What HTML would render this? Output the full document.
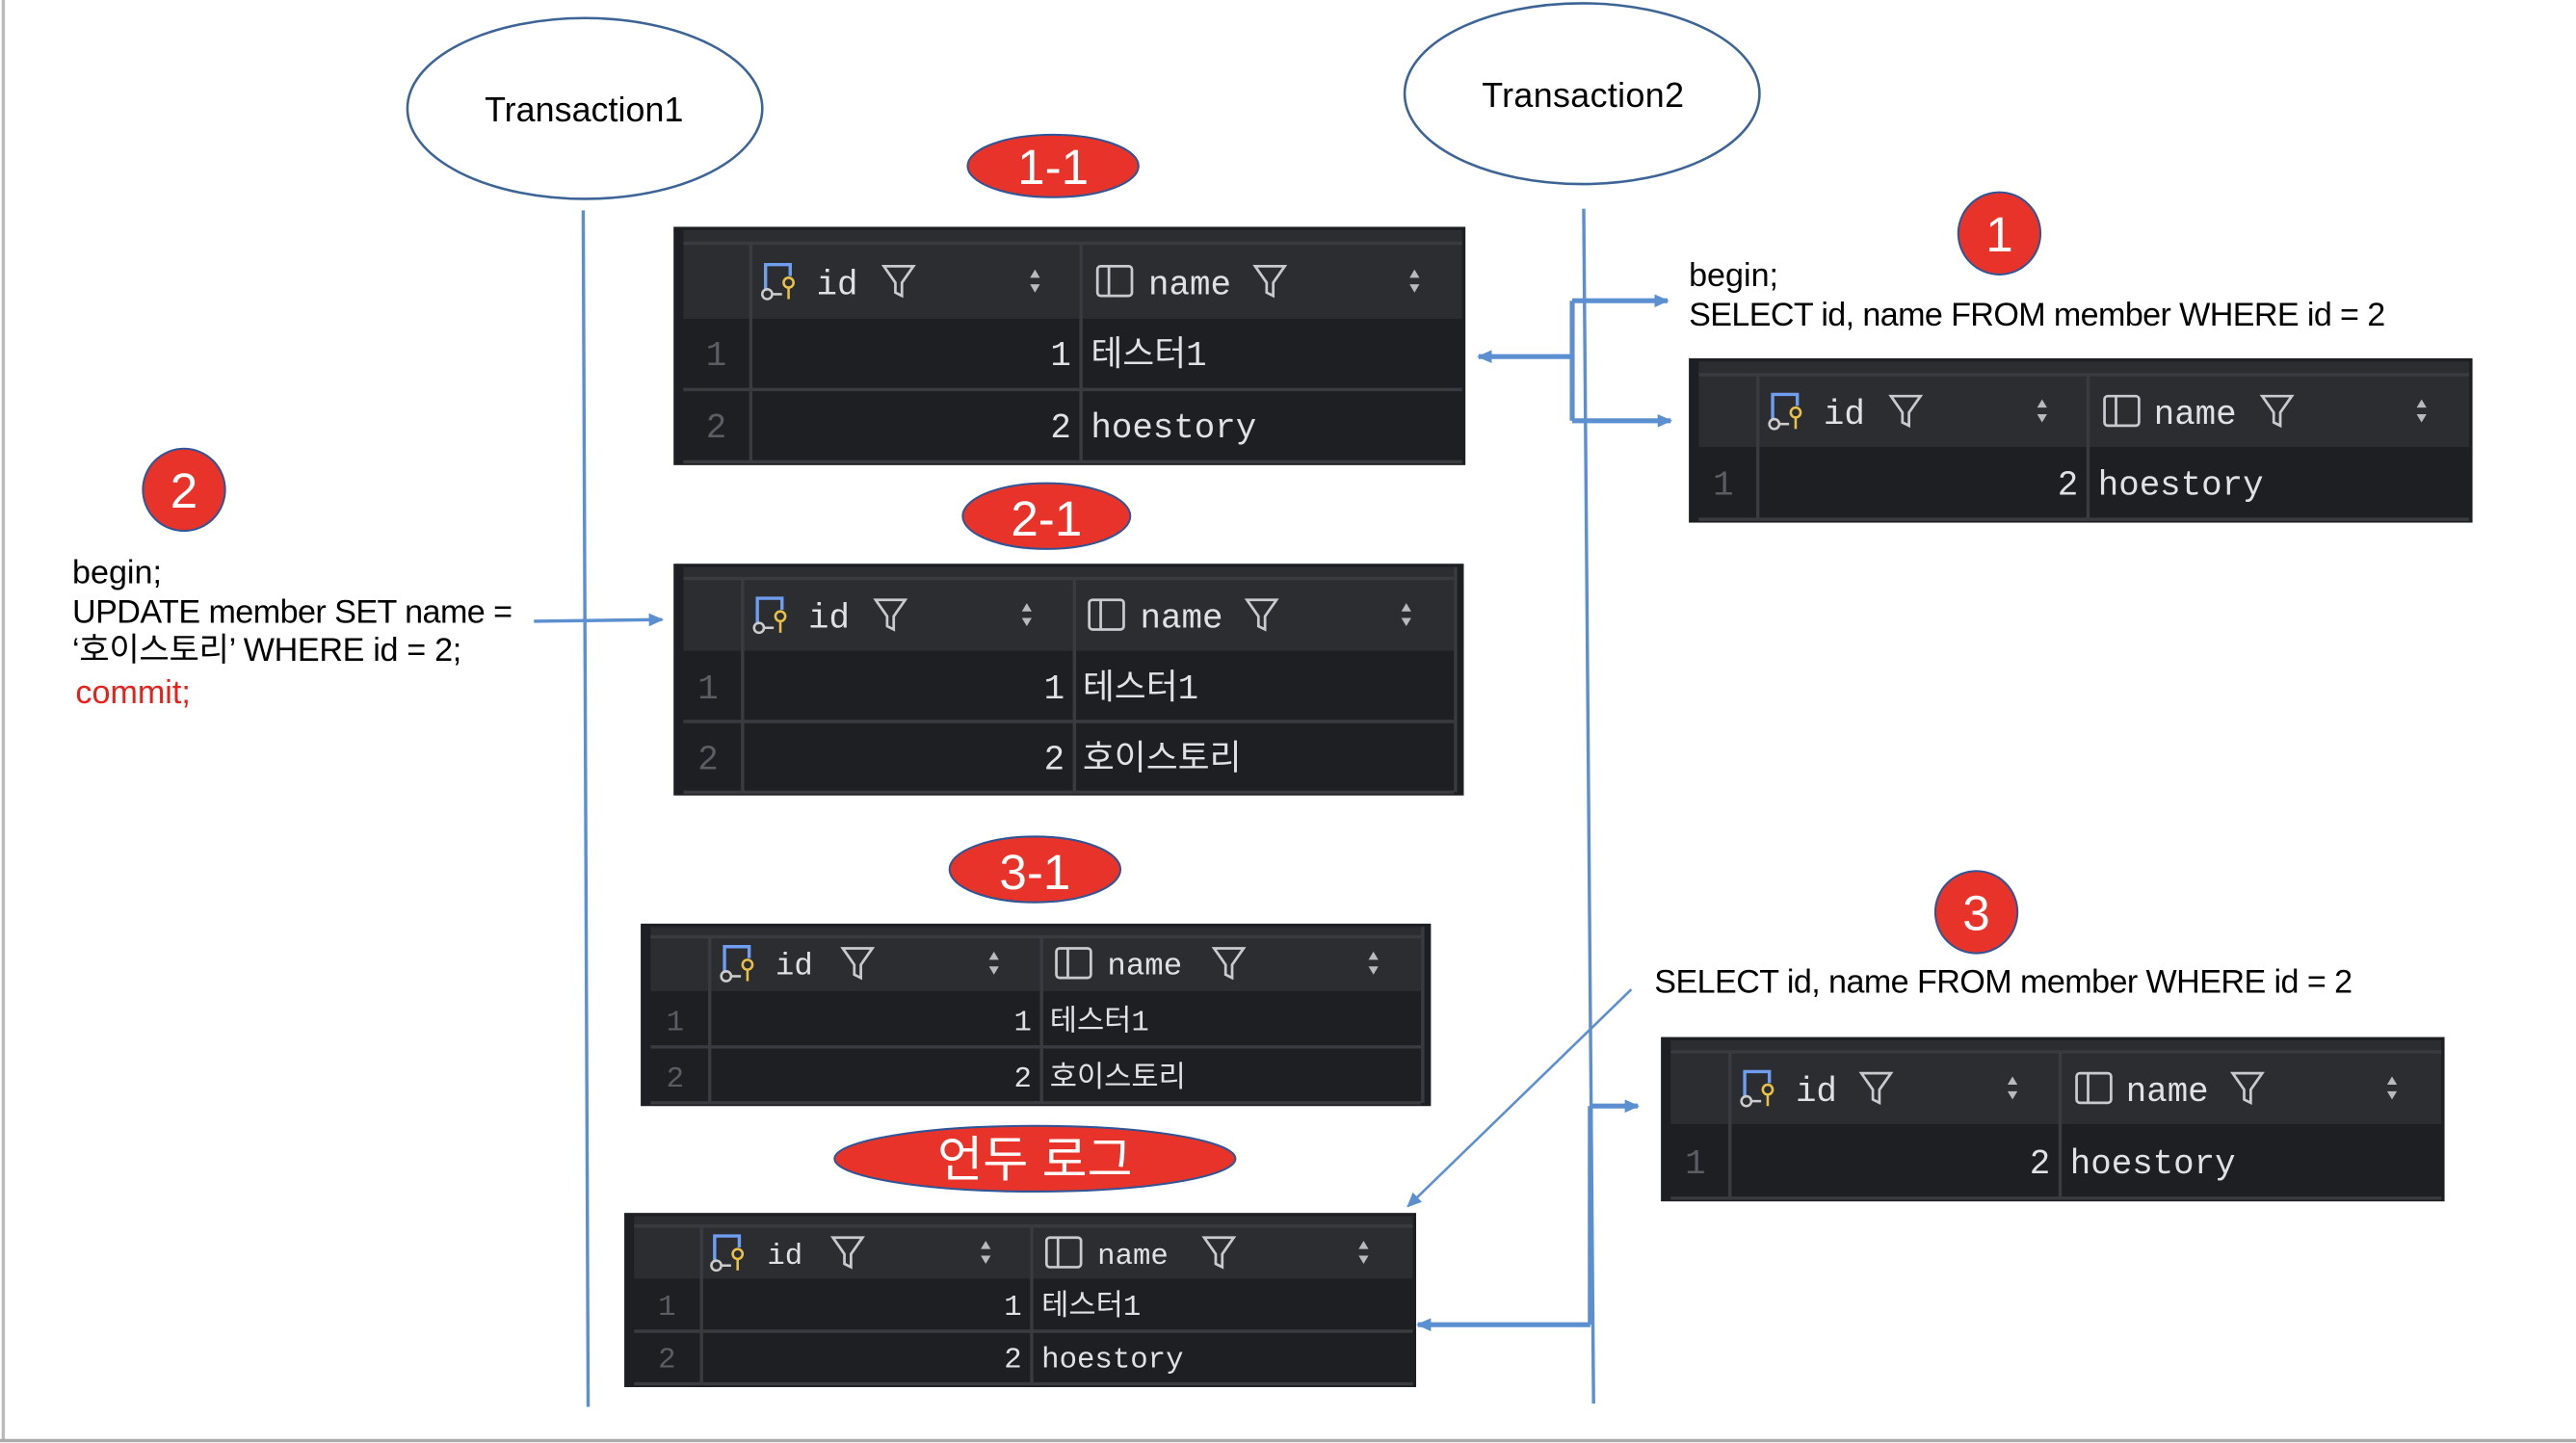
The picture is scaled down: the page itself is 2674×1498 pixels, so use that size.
<!DOCTYPE html>
<html><head><meta charset="utf-8"><style>
html,body{margin:0;padding:0;background:#fff;}
svg{display:block;}
.t{font-family:"Liberation Sans","Noto Sans CJK KR",sans-serif;fill:#000;}
.m{font-family:"Liberation Mono","Noto Sans CJK KR",monospace;fill:#dfe1e5;}
.rn{font-family:"Liberation Mono",monospace;fill:#5a5d63;}
.w{font-family:"Liberation Sans","Noto Sans CJK KR",sans-serif;fill:#fff;}
</style></head><body>
<svg width="2674" height="1498" viewBox="0 0 1568 878" preserveAspectRatio="none" xmlns="http://www.w3.org/2000/svg">
<defs>
<marker id="ar" markerWidth="10" markerHeight="10" refX="8" refY="5" orient="auto" markerUnits="userSpaceOnUse"><path d="M0,1 L9,5 L0,9 Z" fill="#5b8fd0"/></marker>
<g id="key"><path d="M2,6 V-10 H17 V-3" stroke="#6f9df0" stroke-width="2" fill="none"/><circle cx="3" cy="8" r="3" stroke="#ccc" stroke-width="1.5" fill="none"/><line x1="6" y1="8" x2="12" y2="8" stroke="#ccc" stroke-width="1.5"/><circle cx="16" cy="1" r="3" stroke="#e8c04a" stroke-width="1.5" fill="none"/><line x1="16" y1="4" x2="16" y2="11" stroke="#e8c04a" stroke-width="1.5"/></g>
<g id="fun"><path d="M0,-9 H18 L11,1 V9 L7,7 V1 Z" stroke="#c8cacf" stroke-width="1.6" fill="none"/></g>
<g id="srt"><path d="M-3,-2 L0,-7 L3,-2Z M-3,2 L0,7 L3,2Z" fill="#b8babe"/></g>
<g id="pan"><rect x="0" y="-9" width="21" height="18" rx="2" stroke="#c8cacf" stroke-width="1.6" fill="none"/><line x1="7" y1="-9" x2="7" y2="9" stroke="#c8cacf" stroke-width="1.6"/></g>
</defs>
<rect x="0" y="0" width="1568" height="878" fill="#fff"/>
<line x1="2" y1="0" x2="2" y2="876" stroke="#bbb" stroke-width="2"/>
<line x1="0" y1="876.5" x2="1568" y2="876.5" stroke="#aaa" stroke-width="2"/>

<ellipse cx="356" cy="66" rx="108" ry="55" fill="#fff" stroke="#3c6496" stroke-width="1.5"/>
<text class="t" x="295" y="74" font-size="21" textLength="121">Transaction1</text>
<ellipse cx="963" cy="57" rx="108" ry="55" fill="#fff" stroke="#3c6496" stroke-width="1.5"/>
<text class="t" x="902" y="65" font-size="21" textLength="123">Transaction2</text>

<line x1="355" y1="128" x2="358" y2="856" stroke="#5b8fd0" stroke-width="2"/>
<line x1="964" y1="127" x2="970" y2="854" stroke="#5b8fd0" stroke-width="2"/>

<g stroke="#5b8fd0" stroke-width="3" fill="none">
<line x1="957" y1="183" x2="957" y2="256"/>
<line x1="957" y1="217" x2="900" y2="217" marker-end="url(#ar)"/>
<line x1="957" y1="183" x2="1015" y2="183" marker-end="url(#ar)"/>
<line x1="957" y1="256" x2="1017" y2="256" marker-end="url(#ar)"/>
<line x1="968" y1="673" x2="968" y2="806"/>
<line x1="968" y1="673" x2="997" y2="673" marker-end="url(#ar)"/>
<line x1="968" y1="806" x2="863" y2="806" marker-end="url(#ar)"/>
</g>
<line x1="325" y1="378" x2="403" y2="377" stroke="#5b8fd0" stroke-width="2" marker-end="url(#ar)"/>
<line x1="993" y1="602" x2="857" y2="734" stroke="#5b8fd0" stroke-width="1.5" marker-end="url(#ar)"/>

<g stroke="#2f5597" stroke-width="1.2" fill="#e8332a">
<ellipse cx="641" cy="101" rx="52" ry="19"/>
<ellipse cx="637" cy="314" rx="51" ry="20"/>
<ellipse cx="630" cy="529" rx="52" ry="20"/>
<ellipse cx="630" cy="705" rx="122" ry="20"/>
<circle cx="1217" cy="142" r="25"/>
<circle cx="112" cy="298" r="25"/>
<circle cx="1203" cy="555" r="25"/>
</g>
<text class="w" x="641" y="112" font-size="30" text-anchor="middle">1-1</text>
<text class="w" x="637" y="326" font-size="30" text-anchor="middle">2-1</text>
<text class="w" x="630" y="541" font-size="30" text-anchor="middle">3-1</text>
<text class="w" x="630" y="716" font-size="30" text-anchor="middle">언두 로그</text>
<text class="w" x="1217" y="153" font-size="30" text-anchor="middle">1</text>
<text class="w" x="112" y="309" font-size="30" text-anchor="middle">2</text>
<text class="w" x="1203" y="566" font-size="30" text-anchor="middle">3</text>

<text class="t" x="1028" y="174" font-size="20">begin;</text>
<text class="t" x="1028" y="198" font-size="20" textLength="424">SELECT id, name FROM member WHERE id = 2</text>
<text class="t" x="1007" y="604" font-size="20" textLength="425">SELECT id, name FROM member WHERE id = 2</text>
<text class="t" x="44" y="355" font-size="20">begin;</text>
<text class="t" x="44" y="379" font-size="20" textLength="268">UPDATE member SET name =</text>
<text class="t" x="44" y="402" font-size="20" textLength="237">‘호이스토리’ WHERE id = 2;</text>
<text class="t" x="46" y="428" font-size="20" style="fill:#e8201a">commit;</text>

<!-- Table A -->
<rect x="410" y="138" width="482" height="145" fill="#1e1f22"/>
<rect x="416" y="140" width="474" height="8" fill="#2b2d30"/>
<rect x="416" y="148" width="474" height="46" fill="#2b2d30"/>
<g stroke="#393b40" stroke-width="2"><line x1="416" y1="237" x2="890" y2="237"/><line x1="416" y1="281" x2="890" y2="281"/><line x1="457" y1="148" x2="457" y2="281"/><line x1="658" y1="148" x2="658" y2="281"/><line x1="416" y1="148" x2="890" y2="148"/></g>
<use href="#key" x="464" y="171"/><text class="m" x="497" y="179" font-size="21">id</text><use href="#fun" x="538" y="171"/><use href="#srt" x="630" y="171"/>
<use href="#pan" x="668" y="171"/><text class="m" x="699" y="179" font-size="21">name</text><use href="#fun" x="764" y="171"/><use href="#srt" x="861" y="171"/>
<text class="rn" x="436" y="222" font-size="21" text-anchor="middle">1</text><text class="m" x="652" y="222" font-size="21" text-anchor="end">1</text><text class="m" x="664" y="222" font-size="21">테스터1</text>
<text class="rn" x="436" y="266" font-size="21" text-anchor="middle">2</text><text class="m" x="652" y="266" font-size="21" text-anchor="end">2</text><text class="m" x="664" y="266" font-size="21">hoestory</text>

<!-- Table B -->
<rect x="1028" y="218" width="477" height="100" fill="#1e1f22"/>
<rect x="1034" y="220" width="469" height="52" fill="#2b2d30"/>
<g stroke="#393b40" stroke-width="2"><line x1="1034" y1="228" x2="1503" y2="228"/><line x1="1034" y1="316" x2="1503" y2="316"/><line x1="1070" y1="228" x2="1070" y2="316"/><line x1="1271" y1="228" x2="1271" y2="316"/></g>
<use href="#key" x="1077" y="250"/><text class="m" x="1110" y="258" font-size="21">id</text><use href="#fun" x="1151" y="250"/><use href="#srt" x="1243" y="250"/>
<use href="#pan" x="1281" y="250"/><text class="m" x="1311" y="258" font-size="21">name</text><use href="#fun" x="1377" y="250"/><use href="#srt" x="1474" y="250"/>
<text class="rn" x="1049" y="301" font-size="21" text-anchor="middle">1</text><text class="m" x="1265" y="301" font-size="21" text-anchor="end">2</text><text class="m" x="1277" y="301" font-size="21">hoestory</text>

<!-- Table C -->
<rect x="410" y="343" width="481" height="141" fill="#1e1f22"/>
<rect x="416" y="345" width="469" height="51" fill="#2b2d30"/>
<g stroke="#393b40" stroke-width="2"><line x1="416" y1="352" x2="885" y2="352"/><line x1="416" y1="439" x2="885" y2="439"/><line x1="416" y1="482" x2="885" y2="482"/><line x1="452" y1="352" x2="452" y2="482"/><line x1="654" y1="352" x2="654" y2="482"/><line x1="886" y1="345" x2="886" y2="482"/></g>
<use href="#key" x="459" y="374"/><text class="m" x="492" y="382" font-size="21">id</text><use href="#fun" x="533" y="374"/><use href="#srt" x="625" y="374"/>
<use href="#pan" x="663" y="374"/><text class="m" x="694" y="382" font-size="21">name</text><use href="#fun" x="759" y="374"/><use href="#srt" x="856" y="374"/>
<text class="rn" x="431" y="425" font-size="21" text-anchor="middle">1</text><text class="m" x="648" y="425" font-size="21" text-anchor="end">1</text><text class="m" x="659" y="425" font-size="21">테스터1</text>
<text class="rn" x="431" y="468" font-size="21" text-anchor="middle">2</text><text class="m" x="648" y="468" font-size="21" text-anchor="end">2</text><text class="m" x="659" y="468" font-size="21">호이스토리</text>

<!-- Table D -->
<rect x="390" y="562" width="481" height="111" fill="#1e1f22"/>
<rect x="396" y="564" width="469" height="39" fill="#2b2d30"/>
<g stroke="#393b40" stroke-width="2"><line x1="396" y1="570" x2="865" y2="570"/><line x1="396" y1="637" x2="865" y2="637"/><line x1="396" y1="671" x2="865" y2="671"/><line x1="432" y1="570" x2="432" y2="671"/><line x1="634" y1="570" x2="634" y2="671"/><line x1="866" y1="564" x2="866" y2="671"/></g>
<use href="#key" x="439" y="586"/><text class="m" x="472" y="593" font-size="19">id</text><use href="#fun" x="513" y="586"/><use href="#srt" x="605" y="586"/>
<use href="#pan" x="643" y="586"/><text class="m" x="674" y="593" font-size="19">name</text><use href="#fun" x="739" y="586"/><use href="#srt" x="836" y="586"/>
<text class="rn" x="411" y="627" font-size="18" text-anchor="middle">1</text><text class="m" x="628" y="627" font-size="18" text-anchor="end">1</text><text class="m" x="639" y="627" font-size="18">테스터1</text>
<text class="rn" x="411" y="661" font-size="18" text-anchor="middle">2</text><text class="m" x="628" y="661" font-size="18" text-anchor="end">2</text><text class="m" x="639" y="661" font-size="18">호이스토리</text>

<!-- Table E -->
<rect x="1011" y="631" width="477" height="100" fill="#1e1f22"/>
<rect x="1017" y="633" width="469" height="51" fill="#2b2d30"/>
<g stroke="#393b40" stroke-width="2"><line x1="1017" y1="640" x2="1486" y2="640"/><line x1="1017" y1="729" x2="1486" y2="729"/><line x1="1053" y1="640" x2="1053" y2="729"/><line x1="1254" y1="640" x2="1254" y2="729"/></g>
<use href="#key" x="1060" y="662"/><text class="m" x="1093" y="670" font-size="21">id</text><use href="#fun" x="1133" y="662"/><use href="#srt" x="1225" y="662"/>
<use href="#pan" x="1264" y="662"/><text class="m" x="1294" y="670" font-size="21">name</text><use href="#fun" x="1359" y="662"/><use href="#srt" x="1456" y="662"/>
<text class="rn" x="1032" y="714" font-size="21" text-anchor="middle">1</text><text class="m" x="1248" y="714" font-size="21" text-anchor="end">2</text><text class="m" x="1260" y="714" font-size="21">hoestory</text>

<!-- Table F -->
<rect x="380" y="738" width="482" height="106" fill="#1e1f22"/>
<rect x="386" y="740" width="474" height="38" fill="#2b2d30"/>
<g stroke="#393b40" stroke-width="2"><line x1="386" y1="746" x2="860" y2="746"/><line x1="386" y1="810" x2="860" y2="810"/><line x1="386" y1="842" x2="860" y2="842"/><line x1="427" y1="746" x2="427" y2="842"/><line x1="628" y1="746" x2="628" y2="842"/></g>
<use href="#key" x="433" y="762"/><text class="m" x="467" y="769" font-size="18">id</text><use href="#fun" x="507" y="762"/><use href="#srt" x="600" y="762"/>
<use href="#pan" x="637" y="762"/><text class="m" x="668" y="769" font-size="18">name</text><use href="#fun" x="733" y="762"/><use href="#srt" x="830" y="762"/>
<text class="rn" x="406" y="800" font-size="18" text-anchor="middle">1</text><text class="m" x="622" y="800" font-size="18" text-anchor="end">1</text><text class="m" x="634" y="800" font-size="18">테스터1</text>
<text class="rn" x="406" y="832" font-size="18" text-anchor="middle">2</text><text class="m" x="622" y="832" font-size="18" text-anchor="end">2</text><text class="m" x="634" y="832" font-size="18">hoestory</text>
</svg>
</body></html>
